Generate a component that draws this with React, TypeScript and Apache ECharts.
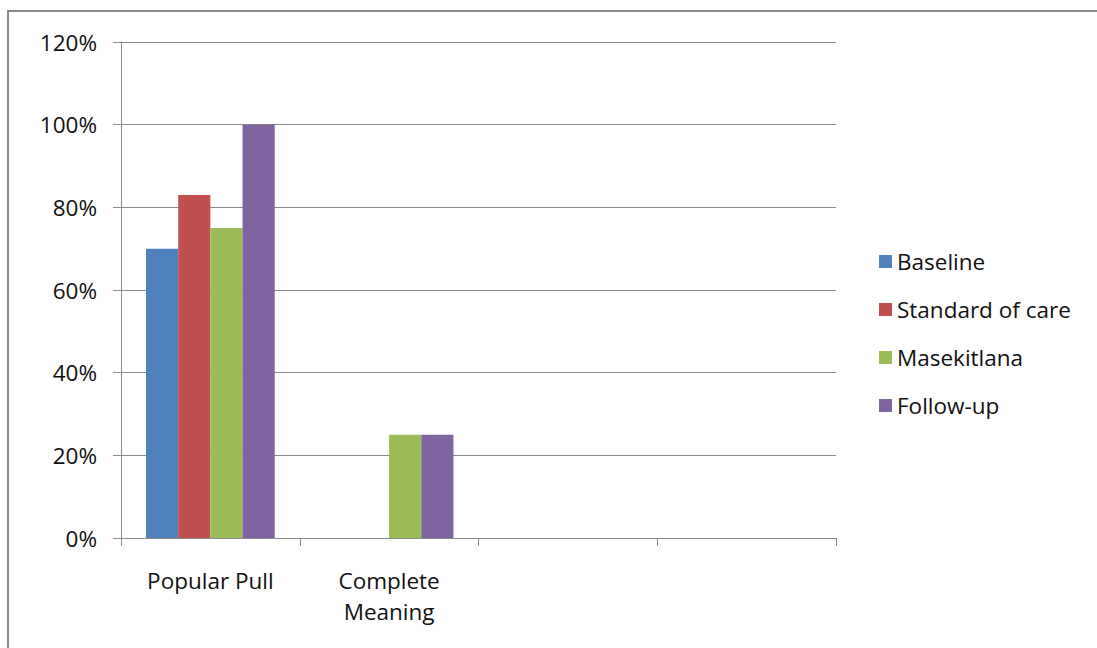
import React, { useEffect, useRef } from "react";
import * as echarts from "echarts";

const categories = ["Popular Pull", "Complete\nMeaning", "", ""];
const baseline = [0.7, 0, 0, 0];
const standardOfCare = [0.83, 0, 0, 0];
const masekitlana = [0.75, 0.25, 0, 0];
const followUp = [1.0, 0.25, 0, 0];
const seriesNames = ["Baseline", "Standard of care", "Masekitlana", "Follow-up"];
const colors = ["#4F81BD", "#C0504D", "#9BBB59", "#8064A2"];

export default function App() {
  const ref = useRef<HTMLDivElement>(null);
  useEffect(() => {
    if (!ref.current) return;
    const chart = echarts.init(ref.current, null, { renderer: "svg" });
    const values = [baseline, standardOfCare, masekitlana, followUp];
    const font = "'Open Sans', Lato, sans-serif";
    chart.setOption({
      animation: false,
      backgroundColor: "#ffffff",
      textStyle: { fontFamily: font },
      graphic: [
        {
          type: "rect",
          shape: { x: 8, y: 11, width: 1200, height: 800 },
          style: { fill: "none", stroke: "#8a8a8a", lineWidth: 2 },
          silent: true,
        },
      ],
      grid: { left: 121, right: 261, top: 42, bottom: 110, containLabel: false },
      legend: {
        orient: "vertical",
        left: 874,
        top: 245,
        icon: "rect",
        itemWidth: 13,
        itemHeight: 13,
        itemGap: 25,
        itemTextGap: 8,
        itemStyle: { borderWidth: 0 },
        textStyle: { fontSize: 22.5, color: "#111", fontFamily: font, lineHeight: 22 },
        data: seriesNames,
      },
      xAxis: {
        type: "category",
        data: categories,
        axisLine: { lineStyle: { color: "#8a8a8a", width: 1 } },
        axisTick: { show: true, length: 8, lineStyle: { color: "#8a8a8a" }, interval: 0 },
        axisLabel: {
          interval: 0,
          fontSize: 22.5,
          color: "#111",
          lineHeight: 31,
          margin: 27,
          fontFamily: font,
        },
      },
      yAxis: {
        type: "value",
        min: 0,
        max: 1.2,
        interval: 0.2,
        axisLine: { show: true, lineStyle: { color: "#8a8a8a", width: 1 } },
        axisTick: { show: true, length: 8, lineStyle: { color: "#8a8a8a" } },
        splitLine: { show: true, lineStyle: { color: "#8a8a8a", width: 1 } },
        axisLabel: {
          fontSize: 22.5,
          color: "#111",
          margin: 24,
          fontFamily: font,
          formatter: (v: number) => `${Math.round(v * 100)}%`,
        },
      },
      series: seriesNames.map((name, i) => ({
        name,
        type: "bar",
        data: values[i],
        barGap: "0%",
        barCategoryGap: "28%",
        itemStyle: { color: colors[i] },
      })),
    });
    return () => chart.dispose();
  }, []);
  return (
    <div
      ref={ref}
      style={{ position: "fixed", left: 0, top: 0, width: 1097, height: 648 }}
    />
  );
}
